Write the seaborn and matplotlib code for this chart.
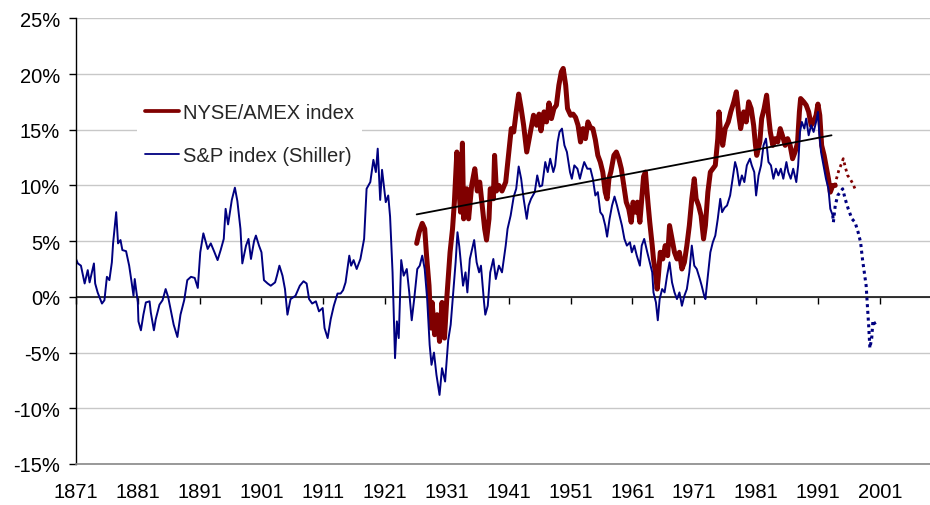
import matplotlib
matplotlib.use("Agg")
import matplotlib.pyplot as plt
import seaborn as sns
from matplotlib.lines import Line2D
from matplotlib.ticker import FuncFormatter

# S&P index (Shiller), solid part, values in %
sp_years = [
    1871.0, 1871.3, 1871.8, 1872.4, 1872.9, 1873.2, 1873.9, 1874.1, 1874.5, 1875.2, 1875.6, 1876.0,
    1876.4, 1876.8, 1877.0, 1877.5, 1877.8, 1878.2, 1878.5, 1879.1, 1879.6, 1880.0, 1880.3, 1880.5,
    1881.0, 1881.1, 1881.5, 1881.9, 1882.3, 1882.9, 1883.1, 1883.6, 1883.9, 1884.5, 1885.0,
    1885.5, 1885.9, 1886.4, 1886.8, 1887.4, 1887.9, 1888.5, 1889.0, 1889.6, 1890.2, 1890.7,
    1891.1, 1891.6, 1892.3, 1892.8, 1893.4, 1893.9, 1894.4, 1894.9, 1895.2, 1895.6, 1896.2,
    1896.7, 1897.1, 1897.6, 1897.9, 1898.5, 1898.9, 1899.3, 1899.8, 1900.1, 1900.6,
    1901.0, 1901.4, 1902.0, 1902.5, 1903.2, 1903.5, 1903.9, 1904.4, 1904.8, 1905.2,
    1905.7, 1906.5, 1907.2, 1907.8, 1908.3, 1908.7, 1909.2, 1909.8, 1910.3, 1910.9,
    1911.2, 1911.7, 1912.2, 1912.7, 1913.3, 1913.8, 1914.2, 1914.6, 1915.2, 1915.5, 1915.9,
    1916.4, 1917.0, 1917.6, 1918.0, 1918.6, 1919.1, 1919.5, 1919.8, 1920.2, 1920.5,
    1921.1, 1921.5, 1921.8, 1922.2, 1922.6, 1922.9, 1923.2, 1923.6, 1924.0, 1924.5, 1924.9, 1925.3,
    1925.7, 1926.2, 1926.6, 1927.0, 1927.4, 1927.8, 1928.2, 1928.5, 1928.9, 1929.3, 1929.8, 1930.2, 1930.7,
    1931.2, 1931.6, 1932.0, 1932.4, 1932.7, 1933.0, 1933.6, 1934.0, 1934.3, 1934.7, 1935.4, 1935.8,
    1936.2, 1936.5, 1937.0, 1937.2, 1937.6, 1938.0, 1938.5, 1938.9, 1939.4, 1939.9, 1940.5, 1940.8,
    1941.3, 1941.8, 1942.2, 1942.6, 1943.0, 1943.4, 1943.9, 1944.2, 1944.6, 1945.2, 1945.6, 1946.0,
    1946.4, 1946.9, 1947.3, 1947.7, 1948.2, 1948.5, 1948.9, 1949.2, 1949.6, 1950.0, 1950.4, 1950.9,
    1951.2, 1951.6, 1952.1, 1952.5, 1952.9, 1953.2, 1953.7, 1954.2, 1954.6, 1955.0, 1955.4, 1955.8,
    1956.2, 1956.6, 1956.9, 1957.3, 1957.7, 1958.1, 1958.5, 1958.9, 1959.3, 1959.7, 1960.1, 1960.6, 1960.9,
    1961.3, 1961.7, 1962.2, 1962.5, 1962.9, 1963.4, 1963.8, 1964.2, 1964.4, 1964.8, 1965.1, 1965.4,
    1965.8, 1966.2, 1966.6, 1967.0, 1967.4, 1967.8, 1968.2, 1968.6, 1969.0, 1969.4, 1969.8, 1970.2, 1970.6,
    1971.0, 1971.4, 1971.9, 1972.2, 1972.6, 1972.8, 1973.2, 1973.6, 1974.0, 1974.4, 1974.8, 1975.2, 1975.5,
    1975.9, 1976.3, 1976.8, 1977.2, 1977.6, 1977.9, 1978.3, 1978.7, 1979.1, 1979.5, 1980.0, 1980.3, 1980.7,
    1981.0, 1981.4, 1981.8, 1982.2, 1982.6, 1983.0, 1983.4, 1983.8, 1984.2, 1984.6, 1985.0, 1985.4,
    1985.9, 1986.2, 1986.6, 1987.0, 1987.5, 1987.8, 1988.1, 1988.4, 1988.8, 1989.1, 1989.5, 1989.9,
    1990.3, 1990.7, 1991.0, 1991.2, 1991.5, 1991.9, 1992.3, 1992.7, 1993.0, 1993.4,
]
sp_vals = [
    3.4, 3.0, 2.8, 1.2, 2.4, 1.3, 3.0, 1.2, 0.4, -0.6, -0.3, 1.8,
    1.5, 3.1, 4.8, 7.6, 4.8, 5.1, 4.2, 4.1, 2.8, 1.3, 0.1, 1.6,
    -0.5, -2.2, -3.0, -1.6, -0.5, -0.4, -1.4, -3.0, -2.0, -0.7, -0.3,
    0.7, 0.0, -1.4, -2.5, -3.6, -1.6, -0.3, 1.5, 1.8, 1.7, 0.8,
    4.0, 5.7, 4.3, 4.8, 4.0, 3.3, 4.2, 5.2, 7.9, 6.5, 8.7,
    9.8, 8.6, 6.1, 3.0, 4.6, 5.2, 3.4, 5.0, 5.5, 4.6,
    4.0, 1.5, 1.2, 1.0, 1.3, 1.9, 2.8, 1.9, 0.7, -1.6,
    -0.2, 0.1, 1.0, 1.4, 1.2, -0.2, -0.6, -0.4, -1.3, -1.0,
    -2.8, -3.7, -2.0, -0.8, 0.3, 0.3, 0.6, 1.3, 3.7, 2.8, 3.3,
    2.5, 3.4, 5.2, 9.7, 10.3, 12.3, 11.2, 13.3, 8.7, 11.4,
    8.5, 9.1, 7.2, 2.2, -5.5, -2.2, -3.7, 3.3, 1.9, 2.5, 0.4, -2.1,
    -0.2, 2.5, 2.8, 3.7, 2.5, -0.2, -4.3, -6.1, -5.0, -7.0, -8.8, -6.4, -7.6,
    -3.9, -2.5, 0.3, 3.1, 5.8, 4.5, 1.0, 2.2, 0.4, 3.4, 5.1, 3.1,
    2.2, 2.8, -0.5, -1.6, -0.8, 2.2, 3.4, 1.6, 2.8, 2.2, 4.6, 6.1,
    7.3, 9.0, 9.7, 11.7, 10.6, 8.8, 7.0, 8.2, 8.8, 9.4, 10.9, 9.9,
    10.0, 12.1, 11.2, 12.4, 11.2, 11.8, 13.9, 14.8, 15.1, 13.6, 13.0, 11.2,
    10.6, 11.8, 11.5, 10.6, 11.5, 12.1, 11.5, 11.5, 10.6, 9.1, 9.4, 7.6,
    7.3, 6.4, 5.4, 7.0, 8.2, 9.0, 8.2, 7.3, 6.4, 5.2, 4.6, 4.9, 4.0,
    4.6, 3.7, 2.8, 4.6, 5.2, 4.0, 3.1, 2.2, 0.4, -0.5, -2.1, -0.2,
    0.7, 0.4, 1.9, 3.1, 1.3, 0.4, -0.2, 0.4, -0.8, 0.1, 0.7, 2.2, 4.6,
    2.8, 2.5, 1.6, 1.0, 0.1, -0.2, 1.9, 4.0, 4.9, 5.5, 7.0, 8.8, 7.6,
    8.0, 8.2, 9.1, 10.6, 12.1, 11.5, 10.0, 10.9, 10.3, 11.8, 12.4, 11.8, 11.2,
    9.1, 10.9, 11.8, 13.6, 14.2, 12.1, 11.8, 10.6, 11.5, 10.9, 11.5, 10.6,
    12.1, 11.2, 10.6, 11.5, 10.3, 11.8, 14.8, 15.7, 15.1, 16.0, 14.5, 15.4,
    14.8, 15.7, 16.6, 14.8, 13.0, 11.8, 10.6, 9.7, 7.9, 7.3,
]

# S&P, dotted tail
sp_tail_years = [1993.4, 1993.5, 1993.8, 1994.2, 1994.6, 1995.0, 1995.4, 1995.9, 1996.5, 1997.0, 1997.5,
                 1997.9, 1998.2, 1998.5, 1998.8, 1999.0, 1999.2, 1999.4, 1999.7, 1999.9, 2000.2, 2000.5]
sp_tail_vals = [7.3, 6.7, 8.2, 9.1, 9.4, 9.7, 8.8, 7.9, 7.0, 6.7, 5.8,
                4.9, 3.4, 2.2, 1.0, -0.8, -2.5, -4.6, -3.7, -2.1, -2.4, -2.7]

# NYSE/AMEX index, solid part
nyse_years = [
    1926.1, 1926.5, 1927.0, 1927.4, 1927.7, 1928.1, 1928.4, 1928.6, 1929.0, 1929.4, 1929.8, 1930.2, 1930.6,
    1931.0, 1931.5, 1931.9, 1932.2, 1932.6, 1932.8, 1933.0, 1933.2, 1933.5, 1933.7, 1934.2, 1934.5, 1935.0,
    1935.5, 1935.9, 1936.3, 1936.7, 1937.1, 1937.4, 1937.8, 1938.0, 1938.5, 1938.7, 1939.0, 1939.4, 1939.9, 1940.5,
    1941.0, 1941.4, 1941.8, 1942.2, 1942.6, 1943.0, 1943.4, 1943.9, 1944.2, 1944.6, 1945.0, 1945.5, 1945.9,
    1946.2, 1946.7, 1947.1, 1947.5, 1947.9, 1948.3, 1948.7, 1949.1, 1949.5, 1949.8, 1950.2, 1950.5,
    1951.0, 1951.4, 1951.8, 1952.2, 1952.6, 1953.0, 1953.4, 1953.8, 1954.2, 1954.6, 1955.0, 1955.4, 1955.8,
    1956.2, 1956.6, 1956.9, 1957.2, 1957.5, 1958.0, 1958.4, 1958.8, 1959.2, 1959.6, 1960.0, 1960.4, 1960.8,
    1961.1, 1961.5, 1961.8, 1962.2, 1962.5, 1962.8, 1963.1, 1963.5, 1963.8, 1964.2, 1964.4, 1964.7, 1965.0, 1965.2,
    1965.5, 1965.9, 1966.3, 1966.7, 1967.0, 1967.4, 1967.8, 1968.2, 1968.6, 1969.0, 1969.4, 1969.8, 1970.2, 1970.6,
    1971.0, 1971.3, 1971.7, 1972.1, 1972.5, 1972.8, 1973.2, 1973.6, 1974.0, 1974.4, 1974.8, 1975.0, 1975.2, 1975.6,
    1976.0, 1976.5, 1976.9, 1977.4, 1977.8, 1978.2, 1978.5, 1979.0, 1979.4, 1979.8, 1980.2, 1980.6, 1980.9,
    1981.1, 1981.6, 1981.9, 1982.3, 1982.7, 1983.0, 1983.3, 1983.7, 1984.1, 1984.5, 1984.9, 1985.3, 1985.7,
    1986.1, 1986.5, 1986.9, 1987.3, 1987.7, 1988.0, 1988.2, 1988.7, 1989.1, 1989.5, 1989.9, 1990.3,
    1990.7, 1991.0, 1991.3, 1991.6, 1992.0, 1992.3, 1992.7, 1993.0, 1993.4, 1993.8,
]
nyse_vals = [
    4.8, 5.8, 6.6, 6.1, 3.7, 1.0, -2.8, -0.5, -3.4, -1.6, -4.0, -0.5, -3.7,
    0.1, 4.0, 6.1, 8.5, 13.0, 10.6, 9.1, 7.6, 13.8, 7.0, 9.7, 7.0, 10.0,
    11.5, 9.5, 10.3, 8.2, 6.1, 5.1, 7.0, 9.7, 8.8, 12.7, 9.5, 10.0, 9.5, 10.3,
    13.0, 15.1, 14.8, 16.6, 18.2, 16.9, 15.4, 13.0, 13.9, 15.1, 16.3, 15.4, 16.4,
    14.9, 16.6, 15.7, 17.4, 16.0, 16.9, 17.2, 19.0, 20.2, 20.5, 19.0, 16.9,
    16.3, 16.4, 16.1, 15.4, 13.9, 15.1, 14.2, 15.7, 15.2, 15.1, 14.1, 12.7, 12.1,
    11.2, 9.4, 8.8, 10.6, 11.2, 12.7, 13.0, 12.4, 11.5, 10.0, 8.5, 7.9, 6.7,
    8.5, 7.6, 8.5, 6.7, 8.8, 10.8, 11.2, 8.5, 6.7, 4.6, 3.4, 2.2, 0.7, 1.9,
    4.0, 3.4, 4.6, 3.7, 6.4, 5.2, 4.0, 3.4, 4.0, 2.5, 3.1, 4.6, 6.4, 8.8,
    10.6, 8.8, 8.2, 7.3, 5.2, 6.4, 9.4, 11.2, 11.5, 11.8, 14.2, 16.6, 15.1, 13.6,
    15.1, 15.7, 16.6, 17.5, 18.4, 16.3, 15.1, 16.6, 15.7, 17.5, 16.9, 15.4, 13.6,
    12.7, 13.9, 16.0, 16.9, 18.1, 16.3, 14.8, 13.6, 14.2, 13.9, 15.1, 14.4, 13.6,
    14.2, 13.6, 12.4, 13.0, 13.8, 16.6, 17.8, 17.5, 17.2, 16.6, 15.4, 15.7,
    16.3, 17.3, 16.3, 13.6, 12.7, 11.8, 10.6, 9.4, 10.0, 10.0,
]

# NYSE/AMEX, dotted tail
nyse_tail_years = [1993.8, 1994.0, 1994.4, 1994.7, 1995.1, 1995.4, 1995.8, 1996.2, 1996.6, 1997.0]
nyse_tail_vals = [10.0, 10.6, 11.4, 11.8, 12.4, 11.7, 10.9, 10.6, 10.2, 9.7]

# black trend line
trend_years = [1926.1, 1993.2]
trend_vals = [7.4, 14.5]

year_ticks = list(range(1871, 2002, 10))
pct_ticks = list(range(-15, 26, 5))

NAVY = '#000080'
DARKRED = '#800000'

sns.set_theme(style='white')
plt.rcParams['font.family'] = ['Liberation Sans', 'DejaVu Sans']
plt.rcParams['axes.unicode_minus'] = False

fig = plt.figure(figsize=(9.3, 5.06), dpi=100)
ax = fig.add_axes([75.5 / 930, 41 / 506, 854.5 / 930, 445.7 / 506])

sns.lineplot(x=nyse_years, y=nyse_vals, ax=ax, color=DARKRED, linewidth=3.6,
             estimator=None, errorbar=None)
sns.lineplot(x=nyse_tail_years, y=nyse_tail_vals, ax=ax, color=DARKRED, linewidth=2.0,
             linestyle=(0, (1, 1.3)), estimator=None, errorbar=None)
sns.lineplot(x=sp_years, y=sp_vals, ax=ax, color=NAVY, linewidth=1.4,
             estimator=None, errorbar=None)
sns.lineplot(x=sp_tail_years, y=sp_tail_vals, ax=ax, color=NAVY, linewidth=2.2,
             linestyle=(0, (1, 1.2)), estimator=None, errorbar=None)
sns.lineplot(x=trend_years, y=trend_vals, ax=ax, color='black', linewidth=1.3,
             estimator=None, errorbar=None)

ax.set_xlim(1871 - 0.08, 1871 + (930 - 75) / 6.19)
ax.set_ylim(-15, 25)
ax.set_xlabel('')
ax.set_ylabel('')

ax.set_yticks(pct_ticks)
ax.yaxis.set_major_formatter(FuncFormatter(lambda v, p: '{:.0f}%'.format(v)))
ax.grid(axis='y', color='#c8c8c8', linewidth=1)
ax.grid(axis='x', visible=False)
ax.set_axisbelow(True)

ax.set_xticks(year_ticks)
ax.tick_params(axis='x', length=0, pad=13, labelsize=14.5, labelcolor='black')
ax.tick_params(axis='y', left=True, length=5, width=1, direction='out', color='black',
               pad=6, labelsize=14.5, labelcolor='black')

for side in ['top', 'right']:
    ax.spines[side].set_visible(False)
ax.spines['left'].set_color('black')
ax.spines['left'].set_linewidth(1)
ax.spines['bottom'].set_color('#888888')
ax.spines['bottom'].set_linewidth(1.2)

# zero line, with the decade ticks hanging below it
ax.axhline(0, color='black', linewidth=1.1, zorder=1.8)
zero_pos = (0 - (-15)) / (25 - (-15))
secax = ax.secondary_xaxis(zero_pos)
secax.set_xticks(year_ticks)
secax.set_xticklabels([])
secax.tick_params(direction='out', length=5, width=1, color='black', bottom=True)
secax.spines['bottom'].set_visible(False)

handles = [Line2D([], [], color=DARKRED, linewidth=2.7),
           Line2D([], [], color=NAVY, linewidth=1.3)]
leg = ax.legend(handles, ['NYSE/AMEX index', 'S&P index (Shiller)'], loc='upper left',
                bbox_to_anchor=(0.072, 0.828), frameon=True, facecolor='white',
                edgecolor='none', framealpha=1, fancybox=False, borderpad=0.4,
                borderaxespad=0, handlelength=1.7, handletextpad=0.2,
                labelspacing=1.2, fontsize=14.5)

fig.savefig('out.png', dpi=100)
